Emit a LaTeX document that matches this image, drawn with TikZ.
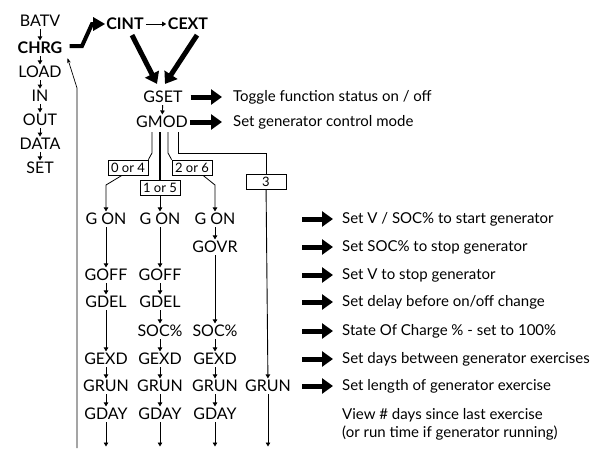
\documentclass[tikz,border=0pt]{standalone}
\usepackage{fontspec}
\setmainfont{Lato}
\usetikzlibrary{arrows.meta, positioning}

\begin{document}
\begin{tikzpicture}[
    x=1pt, y=-1pt,
    menu/.style={font=\fontsize{16}{16}\selectfont, inner sep=1pt},
    menub/.style={inner sep=1pt, font=\fontsize{16}{16}\selectfont\bfseries},
    note/.style={anchor=west, inner sep=0pt, align=left,
      font=\fontsize{15}{18}\selectfont},
    modebox/.style={draw, line width=0.7pt, minimum width=40pt,
      minimum height=15pt, inner sep=1pt, font=\fontsize{13}{13}\selectfont},
    link/.style={line width=0.9pt, shorten <=1pt, shorten >=0.5pt,
      -{Triangle[length=4pt,width=4.5pt]}},
    branch/.style={line width=0.8pt},
    fat/.style={line width=5pt, -{Triangle[length=11pt,width=15pt]}},
    loopback/.style={line width=0.7pt, -{Stealth[length=5pt,width=3.5pt]}}
]
    \useasboundingbox (0,0) rectangle (607,448);

    % --- menu column ---
    \node[menub] (chrg) at (40,48) {CHRG};
    \foreach \name/\txt/\y in {batv/BATV/21, load/LOAD/72, inmenu/IN/96,
      outmenu/OUT/120, data/DATA/144, setmenu/SET/168}
      \node[menu] (\name) at (40,\y) {\txt};
    \foreach \a/\b in {batv/chrg, chrg/load, load/inmenu, inmenu/outmenu,
      outmenu/data, data/setmenu}
      \draw[link] (\a) -- (\b);

    % --- charge menu ---
    \node[menub] (cint) at (125,24) {CINT};
    \node[menub] (cext) at (188,24) {CEXT};
    \draw[link] (cint) -- (cext);
    \draw[line width=4pt, -{Triangle[length=12pt,width=13pt]}]
        ([xshift=6pt,yshift=2pt]chrg.east) -- (82,46) -- (92,24) -- (cint.west);

    \node[menu] (gset) at (163,97) {GSET};
    \node[menu] (gmod) at (162,122) {GMOD};
    \draw[fat] ([xshift=7pt,yshift=-4pt]cint.south) -- ([xshift=-6pt,yshift=6pt]gset.north);
    \draw[fat] ([xshift=9pt,yshift=-4pt]cext.south) -- ([xshift=2pt,yshift=6pt]gset.north);
    \draw[link] (gset) -- (gmod);

    \node[note] (toggle) at (233,97) {Toggle function status on / off};
    \node[note] (ctrl) at (233,122) {Set generator control mode};
    \draw[fat] ([xshift=7pt]gset.east) -- ([xshift=-11pt]toggle.west);
    \draw[fat] ([xshift=1pt]gmod.east) -- ([xshift=-11pt]ctrl.west);

    % --- mode boxes ---
    \node[modebox] (box04) at (128,167.5) {0 or 4};
    \node[modebox] (box15) at (160,187.5) {1 or 5};
    \node[modebox] (box26) at (192,167.5) {2 or 6};
    \node[modebox] (box3) at (266,182) {3};

    \draw[branch] (152,132) -- (152,153) -- (box04.north east);
    \draw[line width=2.2pt] (160,132) -- (box15.north);
    \draw[branch] (168,132) -- (168,153) -- (box26.north west);
    \draw[branch] (178,132) -- (178,153) -| (box3.north);

    % --- generator columns ---
    \foreach \name/\txt/\x/\y in {
      gon1/G ON/106/219, goff1/GOFF/106/275, gdel1/GDEL/106/302,
      gexd1/GEXD/106/359, grun1/GRUN/106/386, gday1/GDAY/106/414,
      gon2/G ON/160/219, goff2/GOFF/160/275, gdel2/GDEL/160/302,
      soc2/SOC\%/160/331, gexd2/GEXD/160/359, grun2/GRUN/160/386,
      gday2/GDAY/160/414,
      gon3/G ON/215/219, govr3/GOVR/215/247, soc3/SOC\%/215/331,
      gexd3/GEXD/215/359, grun3/GRUN/215/386, gday3/GDAY/215/414,
      grun4/GRUN/268/386}
      \node[menu] (\name) at (\x,\y) {\txt};

    \foreach \a/\b in {gon1/goff1, goff1/gdel1, gdel1/gexd1, gexd1/grun1,
      grun1/gday1, gon2/goff2, goff2/gdel2, gdel2/soc2, soc2/gexd2,
      gexd2/grun2, grun2/gday2, gon3/govr3, govr3/soc3, soc3/gexd3,
      gexd3/grun3, grun3/gday3}
      \draw[link] (\a) -- (\b);

    \draw[branch, -{Triangle[length=4pt,width=4.5pt]}, shorten >=0.5pt]
        ([xshift=-6pt]box04.south) -- (106,185) -- (gon1);
    \draw[link, shorten <=0pt] (box15) -- (gon2);
    \draw[branch, -{Triangle[length=4pt,width=4.5pt]}, shorten >=0.5pt]
        ([xshift=11pt]box26.south) -- (215,185) -- (gon3);
    \draw[link, shorten <=0pt] (box3) -- (grun4);

    % --- exits at the foot ---
    \foreach \c/\x in {1/106, 2/160, 3/215, 4/268} {
      \coordinate (foot\c) at (\x,447);
      \draw[link] (\ifnum\c=4 grun4\else gday\c\fi) -- (foot\c);
    }

    % --- return to the menu ---
    \coordinate (loopfoot) at (77,448);
    \draw[loopback] (loopfoot) -- (77,88) -- ([xshift=4pt,yshift=-3pt]chrg.south east);

    % --- descriptions ---
    \foreach \name/\y/\txt in {
      d1/219/{Set V / SOC\% to start generator},
      d2/247/{Set SOC\% to stop generator},
      d3/275/{Set V to stop generator},
      d4/302/{Set delay before on/off change},
      d5/331/{State Of Charge \% - set to 100\%},
      d6/359/{Set days between generator exercises},
      d7/386/{Set length of generator exercise}} {
      \node[note] (\name) at (342,\y) {\txt};
      \draw[fat] ([xshift=-40pt]\name.west) -- ([xshift=-9pt]\name.west);
    }
    \node[note] (d8) at (342,424) {View \# days since last exercise\\
      (or run time if generator running)};
\end{tikzpicture}
\end{document}
